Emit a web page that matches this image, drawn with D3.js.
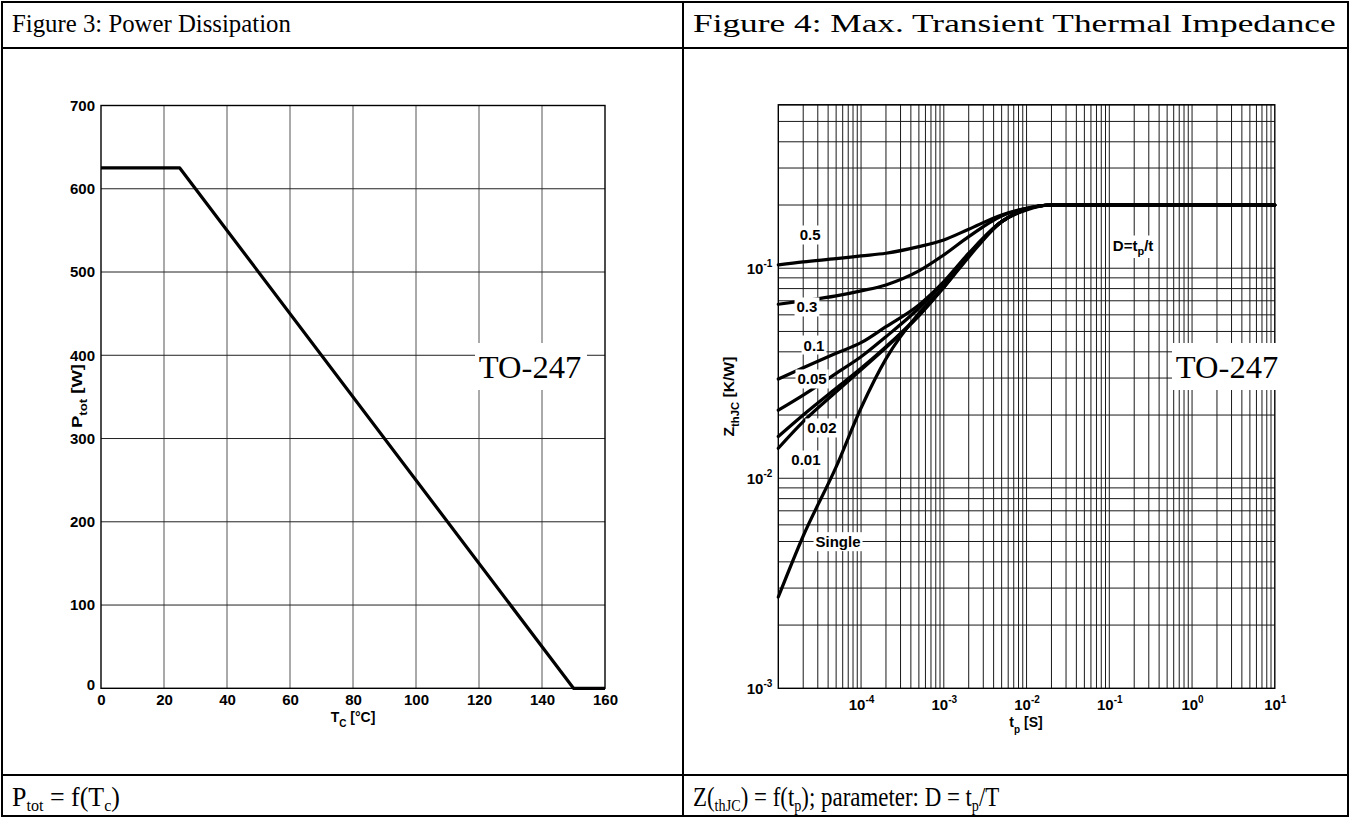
<!DOCTYPE html>
<html>
<head>
<meta charset="utf-8">
<script src="https://cdn.jsdelivr.net/npm/d3@7"></script>
<style>
  html, body { margin: 0; padding: 0; background: #fff; }
  svg { display: block; }
  .sans { font-family: "Liberation Sans", Arial, sans-serif; font-weight: bold; }
  .serif { font-family: "Liberation Serif", "Times New Roman", serif; }
</style>
</head>
<body>
<svg id="sheet" width="1354" height="818"></svg>
<script>
// ---- Figure 3: power dissipation vs case temperature ----
const caseTemp = [0, 25, 150, 160];          // T_C [°C]
const powerTot = [625, 625, 0, 0];            // P_tot [W]
const tempTicks = [0, 20, 40, 60, 80, 100, 120, 140, 160];
const powerTicks = [0, 100, 200, 300, 400, 500, 600, 700];

// ---- Figure 4: transient thermal impedance vs pulse width ----
const pulseWidth = [1e-5, 2e-5, 5e-5, 1e-4, 2e-4, 5e-4, 1e-3, 2e-3, 5e-3, 1e-2, 2e-2, 1e-1, 1, 10]; // t_p [s]
const zthD05    = [0.1037, 0.1072, 0.1111, 0.1145, 0.1179, 0.1267, 0.1364, 0.1534, 0.1794, 0.1931, 0.2, 0.2, 0.2, 0.2];
const zthD03    = [0.0674, 0.0699, 0.0738, 0.0780, 0.0833, 0.0971, 0.1157, 0.1414, 0.1774, 0.1931, 0.2, 0.2, 0.2, 0.2];
const zthD01    = [0.0297, 0.0336, 0.0394, 0.0442, 0.0527, 0.0669, 0.0864, 0.1179, 0.1667, 0.1895, 0.2, 0.2, 0.2, 0.2];
const zthD005   = [0.0211, 0.0249, 0.0316, 0.0379, 0.0472, 0.0645, 0.0849, 0.1157, 0.1667, 0.1910, 0.2, 0.2, 0.2, 0.2];
const zthD002   = [0.0158, 0.0200, 0.0268, 0.0334, 0.0423, 0.0599, 0.0817, 0.1157, 0.1667, 0.1910, 0.2, 0.2, 0.2, 0.2];
const zthD001   = [0.0139, 0.0186, 0.0258, 0.0328, 0.0419, 0.0593, 0.0812, 0.1150, 0.1667, 0.1910, 0.2, 0.2, 0.2, 0.2];
const zthSingle = [0.00272, 0.00531, 0.01132, 0.0216, 0.0370, 0.0610, 0.0810, 0.1130, 0.1667, 0.1910, 0.2, 0.2, 0.2, 0.2];
const zthSeries = [zthD05, zthD03, zthD01, zthD005, zthD002, zthD001, zthSingle];
const dutyLabels = ["0.5", "0.3", "0.1", "0.05", "0.02", "0.01", "Single"];
const pulseExpLabels = [-4, -3, -2, -1, 0, 1];
const zthExpLabels = [-3, -2, -1];

const svg = d3.select("#sheet");
svg.append("rect").attr("width", 1354).attr("height", 818).attr("fill", "#fff");

// ---- table frame ----
const frame = { left: 2, right: 1348, top: 2, bottom: 816, mid: 683, row1: 48, row2: 775 };
const tbl = svg.append("g").attr("stroke", "#000").attr("stroke-width", 2).attr("fill", "none");
tbl.append("rect").attr("x", frame.left).attr("y", frame.top)
  .attr("width", frame.right - frame.left).attr("height", frame.bottom - frame.top);
tbl.append("line").attr("x1", frame.mid).attr("x2", frame.mid).attr("y1", frame.top).attr("y2", frame.bottom);
tbl.append("line").attr("x1", frame.left).attr("x2", frame.right).attr("y1", frame.row1).attr("y2", frame.row1);
tbl.append("line").attr("x1", frame.left).attr("x2", frame.right).attr("y1", frame.row2).attr("y2", frame.row2);

// serif text with optional subscripts, scaled horizontally to a given run length
function richText(g, x, y, size, len, parts) {
  const t = g.append("text").attr("class", "serif").attr("x", 0).attr("y", 0).attr("font-size", size);
  parts.forEach(p => {
    const s = t.append("tspan").text(p.t);
    if (p.sub) s.attr("font-size", size * 0.62).attr("dy", size * 0.2);
    else if (p.after) s.attr("dy", -size * 0.2);
  });
  const w = t.node().getBBox().width;
  t.attr("transform", `translate(${x},${y}) scale(${len / w},1)`);
  return t;
}
// titles
richText(svg, 12, 32, 26, 279, [{ t: "Figure 3: Power Dissipation" }]);
richText(svg, 693, 32, 26, 643, [{ t: "Figure 4: Max. Transient Thermal Impedance" }]);
// captions
richText(svg, 12, 806, 27, 108, [
  { t: "P" }, { t: "tot", sub: true }, { t: " = f(T", after: true }, { t: "c", sub: true }, { t: ")", after: true }
]);
richText(svg, 693, 806, 27, 307, [
  { t: "Z(" }, { t: "thJC", sub: true }, { t: ") = f(t", after: true }, { t: "p", sub: true },
  { t: "); parameter: D = t", after: true }, { t: "p", sub: true }, { t: "/T", after: true }
]);

// rotated axis title with a subscript, stretched along its run
function verticalTitle(g, cx, cy, len, main, sub, rest) {
  const v = g.append("text").attr("class", "sans").attr("font-size", 14).attr("text-anchor", "middle");
  v.append("tspan").text(main);
  v.append("tspan").text(sub).attr("font-size", 10).attr("dy", 5);
  v.append("tspan").text(rest).attr("dy", -5);
  const w = v.node().getBBox().width;
  v.attr("transform", `translate(${cx},${cy}) rotate(-90) scale(${len / w},1)`);
}

// ===== Figure 3 =====
const x3 = d3.scaleLinear().domain([0, 160]).range([101, 605]);
const y3 = d3.scaleLinear().domain([0, 700]).range([688.3, 105.5]);
const g3 = svg.append("g");

g3.append("g").selectAll("line").data(tempTicks.slice(1, -1)).join("line")
  .attr("x1", d => x3(d)).attr("x2", d => x3(d)).attr("y1", y3(0)).attr("y2", y3(700))
  .attr("stroke", "#555").attr("stroke-width", 1);
g3.append("g").selectAll("line").data(powerTicks.slice(1, -1)).join("line")
  .attr("x1", x3(0)).attr("x2", x3(160)).attr("y1", d => y3(d)).attr("y2", d => y3(d))
  .attr("stroke", "#222").attr("stroke-width", 1);

// TO-247 tag with white backing
g3.append("rect").attr("x", 475).attr("y", 343).attr("width", 112).attr("height", 47).attr("fill", "#fff");
g3.append("text").attr("class", "serif").attr("x", 530).attr("y", 378).attr("text-anchor", "middle")
  .attr("font-size", 32.5).text("TO-247");

g3.append("rect").attr("x", x3(0)).attr("y", y3(700)).attr("width", x3(160) - x3(0)).attr("height", y3(0) - y3(700))
  .attr("fill", "none").attr("stroke", "#000").attr("stroke-width", 1.4);

const ax3 = g3.append("g").attr("transform", `translate(0,${y3(0)})`)
  .call(d3.axisBottom(x3).tickValues(tempTicks).tickSize(0).tickPadding(6));
const ay3 = g3.append("g").attr("transform", `translate(${x3(0)},0)`)
  .call(d3.axisLeft(y3).tickValues(powerTicks).tickSize(0).tickPadding(6));
[ax3, ay3].forEach(a => {
  a.select(".domain").remove();
  a.selectAll("text").attr("class", "sans").attr("font-size", 15).attr("fill", "#000");
});
ay3.selectAll(".tick").filter(d => d === 0).select("text").attr("dy", "0.1em");

g3.append("path")
  .datum(caseTemp.map((t, i) => [t, powerTot[i]]))
  .attr("fill", "none").attr("stroke", "#000").attr("stroke-width", 3.2).attr("stroke-linejoin", "round")
  .attr("d", d3.line().x(d => x3(d[0])).y(d => y3(d[1])));

// axis titles
{
  const t = g3.append("text").attr("class", "sans").attr("font-size", 14).attr("x", x3(80)).attr("y", 722)
    .attr("text-anchor", "middle");
  t.append("tspan").text("T");
  t.append("tspan").text("C").attr("font-size", 10).attr("dy", 5);
  t.append("tspan").text(" [°C]").attr("dy", -5);
  verticalTitle(g3, 82, 396, 64, "P", "tot", " [W]");
}

// ===== Figure 4 =====
const x4 = d3.scaleLog().domain([1e-5, 10]).range([778.3, 1274.8]);
const y4 = d3.scaleLog().domain([1e-3, 0.6]).range([688.3, 104.8]);
const g4 = svg.append("g");

const xGrid = [];
for (let e = -5; e <= 0; e++) for (let m = 1; m <= 9; m++) xGrid.push(m * Math.pow(10, e));
const yGrid = [];
for (let e = -3; e <= -1; e++) for (let m = 1; m <= 9; m++) { const v = m * Math.pow(10, e); if (v <= 0.6 + 1e-9) yGrid.push(v); }

g4.append("g").selectAll("line").data(xGrid.slice(1)).join("line")
  .attr("x1", d => x4(d)).attr("x2", d => x4(d)).attr("y1", y4(1e-3)).attr("y2", y4(0.6))
  .attr("stroke", "#1a1a1a").attr("stroke-width", 1);
g4.append("g").selectAll("line").data(yGrid.slice(1)).join("line")
  .attr("x1", x4(1e-5)).attr("x2", x4(10)).attr("y1", d => y4(d)).attr("y2", d => y4(d))
  .attr("stroke", "#1a1a1a").attr("stroke-width", 1);

g4.append("rect").attr("x", x4(1e-5)).attr("y", y4(0.6)).attr("width", x4(10) - x4(1e-5)).attr("height", y4(1e-3) - y4(0.6))
  .attr("fill", "none").attr("stroke", "#000").attr("stroke-width", 1.4);

// decade tick labels as 10^n
function powerLabel(sel) {
  sel.each(function (d) {
    const t = d3.select(this);
    const e = Math.round(Math.log10(d));
    t.text(null);
    t.append("tspan").text("10");
    t.append("tspan").text(String(e)).attr("font-size", 10).attr("dy", "-0.7em");
  });
}
const ax4 = g4.append("g").attr("transform", `translate(0,${y4(1e-3)})`)
  .call(d3.axisBottom(x4).tickValues(pulseExpLabels.map(e => Math.pow(10, e))).tickSize(0).tickPadding(11));
const ay4 = g4.append("g").attr("transform", `translate(${x4(1e-5)},0)`)
  .call(d3.axisLeft(y4).tickValues(zthExpLabels.map(e => Math.pow(10, e))).tickSize(0).tickPadding(6));
[ax4, ay4].forEach(a => {
  a.select(".domain").remove();
  a.selectAll("text").attr("class", "sans").attr("font-size", 15).attr("fill", "#000").call(powerLabel);
});

// thermal impedance curves
const zLine = d3.line().x(d => x4(d[0])).y(d => y4(d[1])).curve(d3.curveMonotoneX);
g4.append("g").selectAll("path").data(zthSeries).join("path")
  .attr("fill", "none").attr("stroke", "#000").attr("stroke-width", 3.2).attr("stroke-linecap", "round")
  .attr("d", s => zLine(pulseWidth.map((t, i) => [t, s[i]])));

// curve labels on white backing
const labelAnchors = [
  [2.42e-5, 0.144], [2.22e-5, 0.0654], [2.70e-5, 0.0431], [2.56e-5, 0.0297],
  [3.37e-5, 0.01736], [2.16e-5, 0.01222], [5.27e-5, 0.00499]
];
function tag(g, x, y, build) {
  const grp = g.append("g");
  const bg = grp.append("rect").attr("fill", "#fff");
  const t = grp.append("text").attr("class", "sans").attr("font-size", 15).attr("x", x).attr("y", y)
    .attr("text-anchor", "middle").attr("dominant-baseline", "central");
  build(t);
  const b = t.node().getBBox();
  bg.attr("x", b.x - 2).attr("y", b.y - 1).attr("width", b.width + 4).attr("height", b.height + 2);
}
dutyLabels.forEach((lab, i) => {
  tag(g4, x4(labelAnchors[i][0]), y4(labelAnchors[i][1]), t => t.text(lab));
});
tag(g4, x4(0.194), y4(0.129), t => {
  t.append("tspan").text("D=t");
  t.append("tspan").text("p").attr("font-size", 11).attr("dy", 6);
  t.append("tspan").text("/t").attr("dy", -6);
});

// TO-247 tag
g4.append("rect").attr("x", 1172).attr("y", 343).attr("width", 112).attr("height", 47).attr("fill", "#fff");
g4.append("text").attr("class", "serif").attr("x", 1227).attr("y", 378).attr("text-anchor", "middle")
  .attr("font-size", 32.5).text("TO-247");

// axis titles
{
  const t = g4.append("text").attr("class", "sans").attr("font-size", 14).attr("x", 1026).attr("y", 727)
    .attr("text-anchor", "middle");
  t.append("tspan").text("t");
  t.append("tspan").text("p").attr("font-size", 10).attr("dy", 6);
  t.append("tspan").text(" [S]").attr("dy", -6);
  verticalTitle(g4, 734, (y4(1e-3) + y4(0.6)) / 2, 80, "Z", "thJC", " [K/W]");
}
</script>
</body>
</html>
